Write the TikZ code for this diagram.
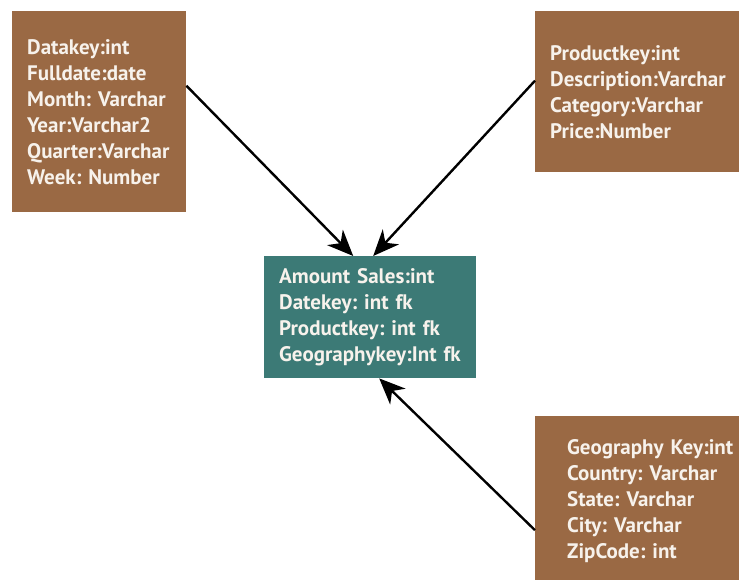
\documentclass[tikz,border=0pt]{standalone}
\usepackage{fontspec}
\setmainfont{PT Sans}
\frenchspacing
\usetikzlibrary{arrows.meta}
\definecolor{dimbrown}{HTML}{9A6944}
\definecolor{factteal}{HTML}{3C7A76}
\definecolor{entitytext}{HTML}{F7F2EC}
\begin{document}
\begin{tikzpicture}[x=1pt,y=-1pt,
  table/.style={anchor=north west, fill=dimbrown, text=entitytext,
    font=\bfseries\fontsize{21}{26}\selectfont, align=left,
    inner xsep=15pt, inner ysep=0pt},
  fact/.style={table, fill=factteal},
  link/.style={line width=2.4pt, -{Stealth[length=26pt,width=22pt,inset=8pt]}}]
\useasboundingbox (0,0) rectangle (739,580);

% dimension and fact tables
\node[table, minimum width=174pt, minimum height=201pt, text width=144pt] (date) at (12,11)
  {Datakey:int\\Fulldate:date\\Month: Varchar\\Year:Varchar2\\Quarter:Varchar\\Week: Number};
\node[table, minimum width=215pt, minimum height=161pt, text width=185pt] (product) at (535,11)
  {Productkey:int\\Description:Varchar\\Category:Varchar\\Price:Number\\[6pt]};
\node[fact, minimum width=212pt, minimum height=122pt, text width=182pt] (sales) at (264,256)
  {Amount Sales:int\\Datekey: int fk\\Productkey: int fk\\Geographykey:Int fk};
\node[table, minimum width=215pt, minimum height=170pt, text width=215pt, inner xsep=0pt] (geo) at (535,416)
  {\hspace*{32pt}\begin{tabular}{@{}l@{}}Geography Key:int\\Country: Varchar\\State: Varchar\\City: Varchar\\ZipCode: int\end{tabular}};

% relationships
\draw[link] ([yshift=26pt]date.east) -- ([xshift=-17pt]sales.north);
\draw[link] ([yshift=11pt]product.west) -- ([xshift=3pt]sales.north);
\draw[link] ([yshift=-29pt]geo.west) -- ([xshift=9pt]sales.south);
\end{tikzpicture}
\end{document}
